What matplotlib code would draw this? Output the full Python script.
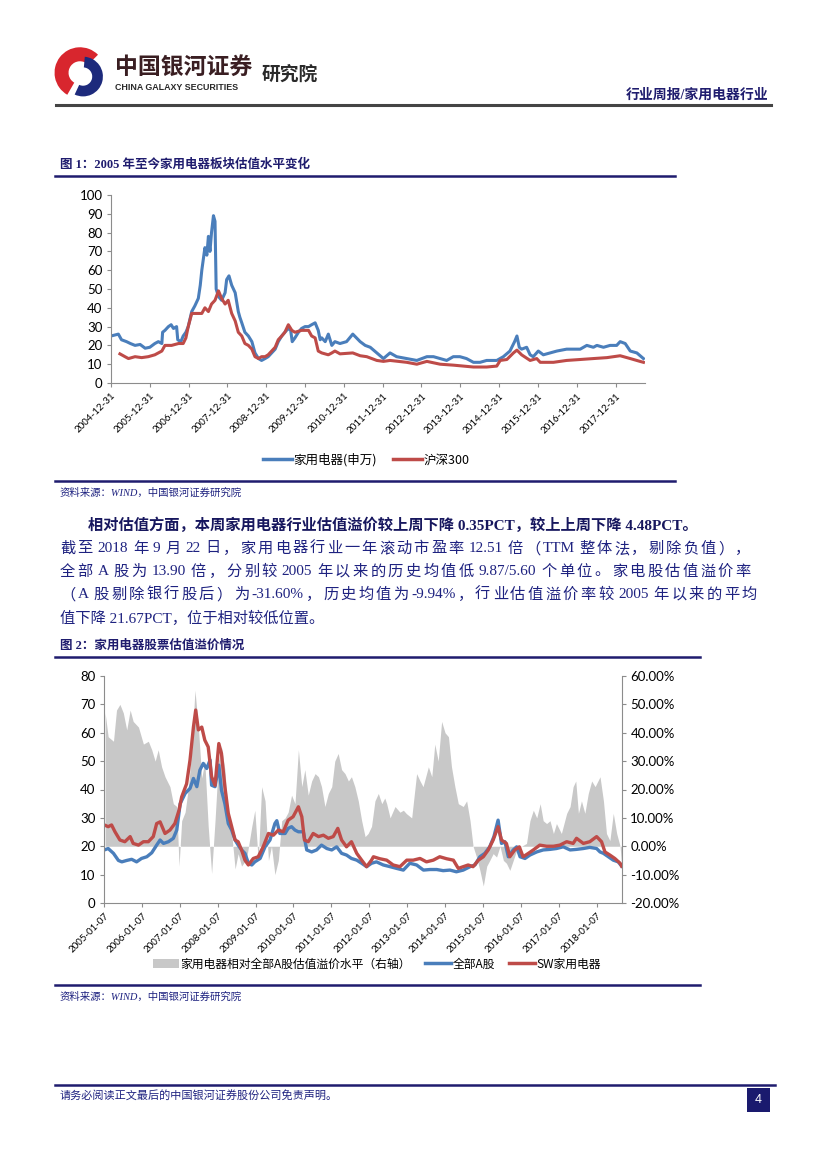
import re
import matplotlib
matplotlib.use('Agg')
import matplotlib.pyplot as plt
from matplotlib.lines import Line2D
from matplotlib.patches import Patch, Rectangle, Wedge

plt.rcParams['font.family'] = ['Noto Sans CJK SC', 'DejaVu Sans']
plt.rcParams['axes.unicode_minus'] = False

# ---------------- data ----------------
# chart 1: PE of SW home appliances vs CSI300, x in decimal years
hh_x = [2005.00, 2005.10, 2005.19, 2005.27, 2005.40, 2005.50, 2005.62, 2005.75, 2005.88, 2006.00,
        2006.13, 2006.22, 2006.31, 2006.33, 2006.39, 2006.48, 2006.55, 2006.61, 2006.69, 2006.72,
        2006.80, 2006.86, 2006.93, 2006.99, 2007.08, 2007.16, 2007.25, 2007.30, 2007.34, 2007.38,
        2007.42, 2007.47, 2007.51, 2007.55, 2007.59, 2007.64, 2007.68, 2007.71, 2007.77, 2007.85,
        2007.94, 2007.98, 2008.04, 2008.11, 2008.20, 2008.24, 2008.28, 2008.32, 2008.37, 2008.45,
        2008.54, 2008.63, 2008.71, 2008.80, 2008.88, 2008.97, 2009.05, 2009.14, 2009.23, 2009.31,
        2009.40, 2009.48, 2009.57, 2009.63, 2009.67, 2009.74, 2009.83, 2009.91, 2010.00, 2010.09,
        2010.17, 2010.26, 2010.34, 2010.39, 2010.43, 2010.52, 2010.60, 2010.69, 2010.77, 2010.90,
        2011.07, 2011.23, 2011.42, 2011.55, 2011.68, 2011.85, 2012.02, 2012.19, 2012.36, 2012.62,
        2012.88, 2013.14, 2013.31, 2013.48, 2013.65, 2013.82, 2013.99, 2014.16, 2014.34, 2014.51,
        2014.68, 2014.94, 2015.11, 2015.28, 2015.40, 2015.46, 2015.52, 2015.58, 2015.71, 2015.80,
        2015.88, 2016.01, 2016.14, 2016.31, 2016.49, 2016.74, 2016.92, 2017.09, 2017.26, 2017.43,
        2017.52, 2017.69, 2017.86, 2018.03, 2018.12, 2018.25, 2018.38, 2018.55, 2018.72]
hh_pe = [25, 25.5, 26, 23, 22, 21, 20, 20.5, 18.5, 19,
         21, 22, 21, 27, 28, 30, 31, 29, 30, 23,
         22, 25, 27, 30, 38, 41, 45, 52, 60, 66,
         72, 68, 78, 70, 80, 89, 86, 50, 46, 44,
         48, 55, 57, 52, 48, 43, 38, 35, 32, 27,
         25, 22, 16, 13, 12, 13, 14, 16, 18, 22,
         25, 27, 29, 28, 22, 24, 27, 29, 30, 30,
         31, 32, 28, 23, 24, 22, 26, 20, 22, 21,
         22, 26, 22, 20, 19, 16, 13, 16, 14, 13,
         12, 14, 14, 13, 12, 14, 14, 13, 11, 11,
         12, 12, 14, 17, 22, 25, 19, 18, 19, 15,
         14, 17, 15, 16, 17, 18, 18, 18, 20, 19,
         20, 19, 20, 20, 22, 21, 17, 16, 13]

hs_x = [2005.23, 2005.36, 2005.45, 2005.62, 2005.79, 2005.96, 2006.13, 2006.31, 2006.39, 2006.56,
        2006.74, 2006.86, 2006.93, 2006.99, 2007.08, 2007.16, 2007.34, 2007.42, 2007.51, 2007.59,
        2007.68, 2007.77, 2007.85, 2007.94, 2008.02, 2008.11, 2008.20, 2008.28, 2008.37, 2008.45,
        2008.54, 2008.63, 2008.71, 2008.80, 2008.88, 2008.97, 2009.05, 2009.14, 2009.23, 2009.31,
        2009.40, 2009.48, 2009.57, 2009.66, 2009.74, 2009.91, 2010.09, 2010.17, 2010.26, 2010.34,
        2010.43, 2010.60, 2010.69, 2010.77, 2010.86, 2010.90, 2011.23, 2011.42, 2011.59, 2011.85,
        2012.02, 2012.19, 2012.62, 2012.88, 2013.14, 2013.48, 2013.82, 2014.34, 2014.68, 2014.94,
        2015.03, 2015.20, 2015.37, 2015.46, 2015.58, 2015.80, 2015.97, 2016.06, 2016.40, 2016.74,
        2017.09, 2017.43, 2017.78, 2018.12, 2018.38, 2018.63, 2018.72]
hs_pe = [15.5, 14, 13, 14, 13.5, 14, 15, 17, 20, 20,
         21, 21, 24, 30, 37, 37, 37, 40, 38, 42,
         44, 49, 45, 42, 44, 37, 33, 27, 25, 21,
         20, 18, 14, 13, 14, 14, 15, 17, 19, 23,
         25, 27, 31, 28, 27, 28, 28, 25, 24, 17,
         16, 15, 16, 17, 16, 15.5, 16, 14.5, 14, 12,
         11.5, 12, 11, 10, 11.5, 10, 9.5, 8.5, 8.5, 9,
         12, 12.5, 16, 17.5, 15, 12, 13, 11, 11, 12,
         12.5, 13, 13.5, 14.5, 13, 11.5, 11]

ticks1 = [2005 + k for k in range(14)]
tick_labels1 = ['2004-12-31', '2005-12-31', '2006-12-31', '2007-12-31', '2008-12-31',
                '2009-12-31', '2010-12-31', '2011-12-31', '2012-12-31', '2013-12-31',
                '2014-12-31', '2015-12-31', '2016-12-31', '2017-12-31']

# chart 2: premium of appliances over all-A (right axis, %)
prem_x = [2005.03, 2005.11, 2005.25, 2005.33, 2005.42, 2005.51, 2005.60, 2005.69, 2005.77, 2005.91,
          2006.04, 2006.17, 2006.26, 2006.35, 2006.43, 2006.52, 2006.61, 2006.74, 2006.83, 2006.92,
          2006.98, 2007.05, 2007.14, 2007.23, 2007.31, 2007.40, 2007.49, 2007.58, 2007.66, 2007.75,
          2007.84, 2007.93, 2008.02, 2008.10, 2008.19, 2008.28, 2008.37, 2008.46, 2008.54, 2008.63,
          2008.76, 2008.90, 2008.98, 2009.07, 2009.16, 2009.25, 2009.34, 2009.42, 2009.51, 2009.60,
          2009.69, 2009.78, 2009.86, 2009.95, 2010.04, 2010.13, 2010.22, 2010.30, 2010.39, 2010.48,
          2010.57, 2010.66, 2010.74, 2010.83, 2010.92, 2011.01, 2011.09, 2011.18, 2011.27, 2011.36,
          2011.45, 2011.53, 2011.62, 2011.71, 2011.80, 2011.89, 2011.97, 2012.06, 2012.15, 2012.24,
          2012.33, 2012.41, 2012.46, 2012.55, 2012.68, 2012.81, 2012.90, 2012.98, 2013.12, 2013.25,
          2013.34, 2013.42, 2013.56, 2013.65, 2013.73, 2013.82, 2013.91, 2014.00, 2014.09, 2014.17,
          2014.26, 2014.35, 2014.48, 2014.57, 2014.66, 2014.74, 2014.83, 2014.92, 2015.01, 2015.10,
          2015.18, 2015.27, 2015.36, 2015.45, 2015.54, 2015.62, 2015.71, 2015.80, 2015.89, 2016.02,
          2016.15, 2016.24, 2016.33, 2016.42, 2016.51, 2016.59, 2016.68, 2016.77, 2016.86, 2016.94,
          2017.07, 2017.21, 2017.30, 2017.38, 2017.45, 2017.52, 2017.60, 2017.69, 2017.78, 2017.87,
          2017.96, 2018.09, 2018.18, 2018.26, 2018.35, 2018.44, 2018.53, 2018.62, 2018.66]
prem_pct = [47, 38.6, 37, 48, 50, 47, 41, 48, 44, 42,
            36, 37, 34, 30, 34, 28, 24.5, 21, 15, 14,
            -7, 9, 12, 21, 33, 55, 42, 24, 30, 7,
            -9.6, 9, 30, 35, 27, 10, 4.5, -8, -2.6, -7,
            -4.5, 7, 12.7, -5, 21, 16, -5, 0, -10, -5,
            9, 10, 12, 18, 15, 34, 21, 27, 18, 23,
            25.6, 24.5, 21, 14, 18.6, 21, 30, 32.7, 27, 25.6,
            23, 24.5, 21, 16, 9, 3.4, 4.5, 7, 16, 18.6,
            15, 17, 15, 10, 14, 12, 12.7, 11.5, 10, 25.6,
            23, 21, 28, 24.5, 36, 30, 44, 40, 38.6, 28,
            21, 15, 14, 16, 9, 0, -3.8, -8.5, -14, -7,
            -5, -2.6, -3.8, 0, -5, -6, -8.5, -5, -1.4, 0,
            1, 9, 12.7, 10, 15, 9, 8, 9, 4.5, 8,
            4.5, 11.6, 14, 21, 23, 11.6, 16, 11.6, 18.6, 23,
            21, 24.5, 16, 4.5, 2, 11.6, 4.5, 0, -7]

alla_x = [2005.01, 2005.11, 2005.25, 2005.38, 2005.47, 2005.60, 2005.73, 2005.86, 2005.99, 2006.13,
          2006.26, 2006.39, 2006.48, 2006.57, 2006.70, 2006.83, 2006.92, 2007.01, 2007.14, 2007.27,
          2007.36, 2007.45, 2007.53, 2007.62, 2007.71, 2007.80, 2007.84, 2007.93, 2008.03, 2008.10,
          2008.19, 2008.28, 2008.37, 2008.46, 2008.54, 2008.63, 2008.72, 2008.81, 2008.90, 2008.98,
          2009.12, 2009.25, 2009.38, 2009.51, 2009.56, 2009.64, 2009.78, 2009.86, 2009.95, 2010.04,
          2010.13, 2010.26, 2010.35, 2010.48, 2010.61, 2010.74, 2010.88, 2011.01, 2011.14, 2011.27,
          2011.40, 2011.53, 2011.67, 2011.80, 2011.93, 2012.06, 2012.19, 2012.37, 2012.55, 2012.72,
          2012.90, 2013.07, 2013.25, 2013.43, 2013.60, 2013.78, 2013.95, 2014.13, 2014.30, 2014.48,
          2014.66, 2014.79, 2014.92, 2015.05, 2015.18, 2015.29, 2015.40, 2015.49, 2015.58, 2015.67,
          2015.80, 2015.89, 2015.98, 2016.11, 2016.24, 2016.42, 2016.59, 2016.77, 2016.94, 2017.12,
          2017.30, 2017.47, 2017.65, 2017.82, 2018.00, 2018.09, 2018.18, 2018.31, 2018.44, 2018.57,
          2018.66]
alla_pe = [18.7, 19.2, 17.5, 15, 14.5, 15, 15.4, 14.5, 15.7, 16.3,
           17.7, 20.4, 22.2, 21, 21.6, 22.8, 25.7, 35, 38.6, 40.4,
           43.9, 41, 46.8, 49.2, 47.4, 50.4, 41.5, 41, 48.6, 39.8,
           35, 28, 25.7, 22.2, 20.4, 18.7, 17.5, 14, 13.4, 14.5,
           15.7, 19.8, 22.2, 28, 29, 24.5, 24.5, 26.3, 26.9, 25.7,
           25.1, 25.1, 18.7, 18, 18.7, 20.4, 19.2, 18.7, 19.8, 17.5,
           16.9, 15.7, 15.1, 14, 12.8, 14, 14.5, 13.4, 12.8, 12.2,
           11.6, 14, 13.4, 11.6, 11.8, 11.8, 11.4, 11.6, 11, 11.6,
           12.8, 13.4, 16.3, 17.5, 19.8, 23.4, 29.2, 21, 21.6, 16.3,
           18.7, 19.8, 16.3, 15.7, 16.9, 18, 18.7, 18.9, 19.2, 19.8,
           18.7, 18.9, 19.2, 19.6, 19.2, 18, 17.5, 16.3, 15.1, 14.5,
           13]

sw_x = [2005.01, 2005.11, 2005.20, 2005.29, 2005.42, 2005.55, 2005.69, 2005.77, 2005.91, 2006.04,
        2006.17, 2006.30, 2006.39, 2006.48, 2006.61, 2006.74, 2006.87, 2006.98, 2007.05, 2007.18,
        2007.27, 2007.36, 2007.42, 2007.49, 2007.58, 2007.66, 2007.75, 2007.84, 2007.93, 2008.03,
        2008.10, 2008.19, 2008.28, 2008.37, 2008.46, 2008.54, 2008.63, 2008.72, 2008.81, 2008.94,
        2009.07, 2009.20, 2009.34, 2009.47, 2009.60, 2009.73, 2009.86, 2009.99, 2010.13, 2010.22,
        2010.29, 2010.39, 2010.52, 2010.66, 2010.79, 2010.92, 2011.05, 2011.17, 2011.27, 2011.40,
        2011.53, 2011.67, 2011.80, 2011.93, 2012.06, 2012.11, 2012.28, 2012.46, 2012.63, 2012.81,
        2012.99, 2013.16, 2013.34, 2013.51, 2013.69, 2013.86, 2014.04, 2014.22, 2014.35, 2014.48,
        2014.61, 2014.74, 2014.88, 2015.01, 2015.14, 2015.27, 2015.40, 2015.49, 2015.62, 2015.71,
        2015.84, 2015.96, 2016.06, 2016.20, 2016.33, 2016.50, 2016.68, 2016.86, 2017.03, 2017.21,
        2017.38, 2017.47, 2017.65, 2017.82, 2018.00, 2018.13, 2018.22, 2018.35, 2018.48, 2018.62,
        2018.66]
sw_pe = [27.5, 26.9, 27.5, 25.1, 22.2, 21.6, 23.4, 21, 20.4, 21.6,
         21.6, 23.4, 28, 28.6, 24.5, 25.7, 28, 32.7, 37.4, 42,
         50.4, 62, 68, 61, 62, 57.4, 55, 44.5, 41.5, 56.2,
         52.7, 41, 31.6, 26.9, 22.2, 21.6, 18.7, 15.1, 13.4, 15.7,
         16.3, 19.8, 24.5, 23.9, 25.7, 25.1, 29.2, 30.4, 33.9, 30.4,
         22.2, 21.6, 24.5, 23.4, 23.9, 22.8, 23.4, 26.3, 22.2, 19.8,
         21.6, 17.5, 15.1, 12.8, 15.1, 16.3, 15.6, 15.1, 13.4, 12.8,
         15.1, 15.1, 15.7, 14.5, 15.1, 16.3, 15.6, 15.1, 12.2, 12.8,
         13.4, 12.8, 15.1, 16.3, 18.7, 22.2, 26.9, 22.2, 21, 16.3,
         18.7, 19.8, 16.3, 17.5, 18.7, 20.4, 20, 20, 20.4, 21.6,
         21, 22.8, 21, 21.6, 23.4, 21.6, 18, 16.9, 15.7, 14,
         13]

ticks2 = [2005 + k for k in range(14)]
tick_labels2 = ['2005-01-07', '2006-01-07', '2007-01-07', '2008-01-07', '2009-01-07',
                '2010-01-07', '2011-01-07', '2012-01-07', '2013-01-07', '2014-01-07',
                '2015-01-07', '2016-01-07', '2017-01-07', '2018-01-07']

body_lines = [
    '相对估值方面，本周家用电器行业估值溢价较上周下降 0.35PCT，较上上周下降 4.48PCT。',
    '截至 2018 年 9 月 22 日，家用电器行业一年滚动市盈率 12.51 倍（TTM 整体法，剔除负值），',
    '全部 A 股为 13.90 倍，分别较 2005 年以来的历史均值低 9.87/5.60 个单位。家电股估值溢价率',
    '（A 股剔除银行股后）为-31.60%，历史均值为-9.94%，行业估值溢价率较 2005 年以来的平均',
    '值下降 21.67PCT，位于相对较低位置。',
]

# ---------------- page ----------------
W, H = 827, 1169
fig = plt.figure(figsize=(8.27, 11.69), dpi=100)
fig.patch.set_facecolor('white')
renderer = fig.canvas.get_renderer()

NAVY = '#1F1C6E'
TXT = '#1E2280'
BLUE = '#4A7EBB'
RED = '#BE4B48'
GRAY = '#C8C8C8'
AXC = '#8C8C8C'
SERIF_CJK = ['Liberation Serif', 'Noto Sans CJK SC']
NUM = ['Lato', 'Noto Sans CJK SC']


def fy(y):
    return 1 - y / H


def box(x0, y0, x1, y1):
    return [x0 / W, 1 - y1 / H, (x1 - x0) / W, (y1 - y0) / H]


def hline(y, x0, x1, color, lw):
    fig.add_artist(Line2D([x0 / W, x1 / W], [fy(y), fy(y)], color=color, lw=lw,
                          transform=fig.transFigure))


def text_line(s, x0, x1, y, size, weight='normal', color=TXT, justify=False):
    if not justify:
        fig.text(x0 / W, fy(y), s, fontsize=size, fontweight=weight, color=color,
                 family=SERIF_CJK, va='center', ha='left')
        return
    toks = re.findall(r'[A-Za-z0-9.%/\-]+|\s+|.', s)
    arts, widths = [], []
    for t in toks:
        if t.isspace():
            arts.append(None)
            widths.append(size * 100 / 72 * 0.25)
            continue
        a = fig.text(0, fy(y), t, fontsize=size, fontweight=weight, color=color,
                     family=SERIF_CJK, va='center', ha='left')
        widths.append(a.get_window_extent(renderer).width)
        arts.append(a)
    # spaces already carry room, so they take no extra gap
    ngap = sum(1 for a in arts if a is not None) - 1
    gap = (x1 - x0 - sum(widths)) / ngap
    x = x0
    for a, w in zip(arts, widths):
        if a is not None:
            a.set_x(x / W)
            x += w + gap
        else:
            x += w - gap * 0.5


# logo
lax = fig.add_axes(box(50, 46, 110, 102))
lax.set_xlim(-1.1, 1.1)
lax.set_ylim(-1.1, 1.1)
lax.set_aspect('equal')
lax.axis('off')
lax.add_patch(Wedge((0.0, 0.05), 1.0, 45, 240, width=0.55, facecolor='#D8262E', edgecolor='none'))
lax.add_patch(Wedge((0.12, -0.1), 0.78, -115, 85, width=0.42, facecolor='#1D2A7C', edgecolor='none'))

fig.text(115 / W, fy(67), '中国银河证券', fontsize=16.5, fontweight='bold', color='#3A1E22',
         va='center', ha='left')
fig.text(115 / W, fy(87), 'CHINA GALAXY SECURITIES', fontsize=6.4, fontweight='bold',
         color='#2A2A2A', family=['Liberation Sans'], va='center', ha='left')
fig.text(262 / W, fy(74), '研究院', fontsize=13.5, fontweight='bold', color='#2A2A2A',
         va='center', ha='left')

hline(105, 56, 771, '#444444', 2.2)
fig.text(768 / W, fy(95), '行业周报/家用电器行业', fontsize=10, fontweight='bold', color=NAVY,
         family=SERIF_CJK, va='center', ha='right')

# figure 1
fig.text(60 / W, fy(165), '图 1：2005 年至今家用电器板块估值水平变化', fontsize=9, fontweight='bold',
         color=NAVY, family=SERIF_CJK, va='center', ha='left')
hline(175.5, 55, 675, NAVY, 1.8)

ax1 = fig.add_axes(box(111, 195, 645, 383))
ax1.plot(hh_x, hh_pe, color=BLUE, lw=2.2, solid_joinstyle='round')
ax1.plot(hs_x, hs_pe, color=RED, lw=2.2, solid_joinstyle='round')
ax1.set_xlim(2005.0, 2018.76)
ax1.set_ylim(0, 100)
yt1 = list(range(0, 101, 10))
ax1.set_yticks(yt1)
ax1.set_yticklabels([str(v) for v in yt1], fontfamily=NUM, fontsize=9.5)
ax1.set_xticks(ticks1)
ax1.set_xticklabels(tick_labels1, fontfamily=NUM, fontsize=7, rotation=45,
                    ha='right', va='top', rotation_mode='anchor')
for s in ['top', 'right']:
    ax1.spines[s].set_visible(False)
for s in ['left', 'bottom']:
    ax1.spines[s].set_color(AXC)
    ax1.spines[s].set_linewidth(0.8)
ax1.tick_params(axis='both', color=AXC, length=3, width=0.8, direction='out', pad=3)
ax1.tick_params(axis='x', pad=3)
h1 = [Line2D([], [], color=BLUE, lw=2.5), Line2D([], [], color=RED, lw=2.5)]
ax1.legend(h1, ['家用电器(申万)', '沪深300'], loc='center', bbox_to_anchor=(0.478, -0.41),
           ncol=2, frameon=False, prop={'family': ['Noto Sans CJK SC'], 'size': 9},
           handlelength=2.3, handletextpad=0.1, columnspacing=1.3)

hline(481, 55, 675, NAVY, 1.8)
fig.text(60 / W, fy(493), '资料来源：WIND，中国银河证券研究院', fontsize=7.5, style='italic',
         color=TXT, family=SERIF_CJK, va='center', ha='left')

# paragraph
text_line(body_lines[0], 88, 706, 525, 11, weight='bold', color='#17175E')
text_line(body_lines[1], 60, 760, 549, 11, justify=True)
text_line(body_lines[2], 60, 760, 572, 11, justify=True)
text_line(body_lines[3], 60, 760, 595, 11, justify=True)
text_line(body_lines[4], 60, 760, 618, 11)

# figure 2
fig.text(60 / W, fy(646), '图 2：家用电器股票估值溢价情况', fontsize=9, fontweight='bold',
         color=NAVY, family=SERIF_CJK, va='center', ha='left')
hline(657, 55, 700, NAVY, 1.8)

ax2 = fig.add_axes(box(104, 676, 622, 903))
axr = ax2.twinx()
axr.fill_between(prem_x, 0, prem_pct, color=GRAY, lw=0, interpolate=True)
axr.set_ylim(-20, 60)
ax2.set_zorder(axr.get_zorder() + 1)
ax2.patch.set_visible(False)
ax2.plot(alla_x, alla_pe, color=BLUE, lw=2.4, solid_joinstyle='round')
ax2.plot(sw_x, sw_pe, color=RED, lw=2.4, solid_joinstyle='round')
ax2.set_xlim(2005.0, 2018.67)
ax2.set_ylim(0, 80)
yt2 = list(range(0, 81, 10))
ax2.set_yticks(yt2)
ax2.set_yticklabels([str(v) for v in yt2], fontfamily=NUM, fontsize=9.5)
yr2 = list(range(-20, 61, 10))
axr.set_yticks(yr2)
axr.set_yticklabels(['%.2f%%' % v for v in yr2], fontfamily=NUM, fontsize=9.5)
ax2.set_xticks(ticks2)
ax2.set_xticklabels(tick_labels2, fontfamily=NUM, fontsize=7, rotation=45,
                    ha='right', va='top', rotation_mode='anchor')
for a in [ax2, axr]:
    for s in a.spines.values():
        s.set_visible(False)
ax2.spines['left'].set_visible(True)
ax2.spines['bottom'].set_visible(True)
axr.spines['right'].set_visible(True)
for s in [ax2.spines['left'], ax2.spines['bottom'], axr.spines['right']]:
    s.set_color(AXC)
    s.set_linewidth(0.8)
ax2.tick_params(axis='both', color=AXC, length=3, width=0.8, direction='out', pad=3)
ax2.tick_params(axis='x', pad=3)
axr.tick_params(axis='y', color=AXC, length=3, width=0.8, direction='out', pad=3)
h2 = [Patch(facecolor=GRAY, edgecolor='none'), Line2D([], [], color=BLUE, lw=2.5),
      Line2D([], [], color=RED, lw=2.5)]
ax2.legend(h2, ['家用电器相对全部A股估值溢价水平（右轴）', '全部A股', 'SW家用电器'], loc='center',
           bbox_to_anchor=(0.527, -0.27), ncol=3, frameon=False,
           prop={'family': ['Noto Sans CJK SC'], 'size': 8.5},
           handlelength=2.2, handleheight=0.8, handletextpad=0.1, columnspacing=1.2)

hline(985, 55, 700, NAVY, 1.8)
fig.text(60 / W, fy(997), '资料来源：WIND，中国银河证券研究院', fontsize=7.5, style='italic',
         color=TXT, family=SERIF_CJK, va='center', ha='left')

# footer
hline(1085, 55, 775, NAVY, 1.8)
fig.text(60 / W, fy(1096), '请务必阅读正文最后的中国银河证券股份公司免责声明。', fontsize=8,
         color=TXT, family=SERIF_CJK, va='center', ha='left')
fig.add_artist(Rectangle((747 / W, fy(1112)), 23 / W, 24 / H, transform=fig.transFigure,
                         facecolor='#1A1A6E', edgecolor='none'))
fig.text(758.5 / W, fy(1100), '4', fontsize=9, color='white', family=['Liberation Sans'],
         va='center', ha='center')

fig.savefig('out.png', dpi=100, facecolor='white')
